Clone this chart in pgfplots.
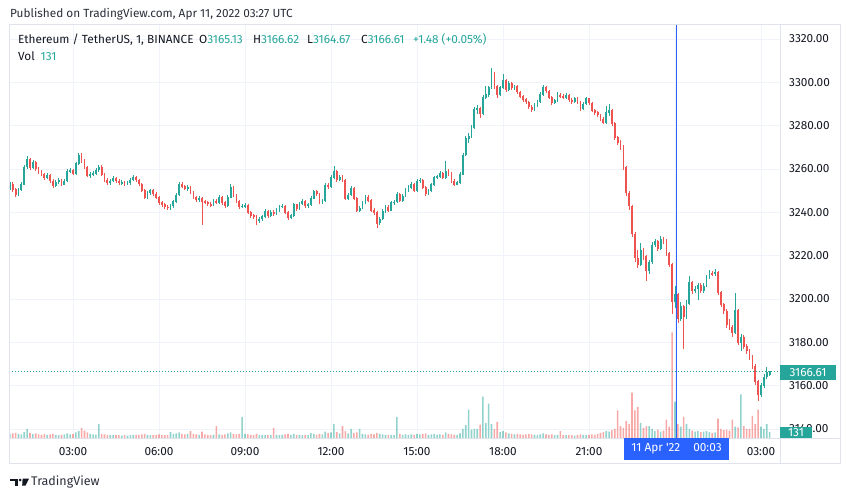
\documentclass[border=0pt]{standalone}
\usepackage{pgfplots}
\pgfplotsset{compat=1.18}
\usepackage{pgfplotstable}
\usepackage{fontspec}
\setmainfont{Fira Sans}
\definecolor{tvgreen}{HTML}{26A69A}
\definecolor{tvred}{HTML}{EF5350}
\definecolor{tvtext}{HTML}{131722}
\definecolor{tvgray}{HTML}{2A2E39}
\definecolor{tvgrid}{HTML}{F0F3FA}
\definecolor{tvborder}{HTML}{E0E3EB}
\definecolor{tvblue}{HTML}{2962FF}

\pgfplotstableread{
t o h l c v
0.8 3251.0 3254.2 3250.2 3253.0 88
0.9 3253.0 3253.8 3249.6 3250.5 100
1.0 3250.5 3251.2 3247.0 3248.0 110
1.1 3248.0 3251.3 3247.4 3250.5 90
1.2 3250.5 3254.0 3249.8 3253.0 80
1.3 3253.0 3262.0 3252.4 3261.0 130
1.4 3261.0 3265.8 3260.2 3264.5 200
1.5 3264.5 3265.2 3259.4 3260.5 110
1.6 3260.5 3264.0 3259.8 3263.0 90
1.7 3263.0 3263.6 3259.2 3260.0 100
1.8 3260.0 3261.0 3257.6 3258.5 80
1.9 3258.5 3259.4 3256.8 3257.5 70
2.0 3257.5 3258.2 3255.0 3256.0 90
2.1 3256.0 3258.0 3255.2 3257.0 70
2.2 3257.0 3257.6 3253.6 3254.5 80
2.3 3254.5 3255.2 3251.4 3252.5 90
2.4 3252.5 3254.8 3251.8 3254.0 70
2.5 3254.0 3256.0 3253.2 3255.0 60
2.6 3255.0 3255.6 3252.0 3253.0 70
2.7 3253.0 3255.4 3252.4 3254.5 80
2.8 3254.5 3260.0 3254.0 3259.0 100
2.9 3259.0 3260.4 3258.0 3259.4 80
3.0 3259.4 3260.0 3257.0 3258.0 90
3.1 3258.0 3263.4 3257.4 3262.5 120
3.2 3262.5 3267.6 3262.0 3266.5 150
3.3 3266.5 3267.2 3263.0 3264.0 220
3.4 3264.0 3264.8 3260.0 3261.0 160
3.5 3261.0 3261.6 3256.2 3257.0 120
3.6 3257.0 3258.6 3256.0 3257.5 90
3.7 3257.5 3259.0 3256.8 3258.0 80
3.8 3258.0 3260.4 3257.4 3259.5 70
3.9 3259.5 3262.0 3258.8 3261.0 310
4.0 3261.0 3261.8 3256.6 3257.5 90
4.1 3257.5 3258.0 3254.2 3255.0 80
4.2 3255.0 3255.8 3252.6 3253.5 70
4.3 3253.5 3255.4 3252.8 3254.5 60
4.4 3254.5 3256.6 3253.8 3255.8 70
4.5 3255.8 3256.4 3253.6 3254.5 60
4.6 3254.5 3255.2 3252.8 3253.5 60
4.7 3253.5 3254.8 3252.6 3254.0 50
4.8 3254.0 3254.6 3252.2 3253.0 60
4.9 3253.0 3254.4 3252.4 3253.5 50
5.0 3253.5 3255.8 3252.8 3255.0 60
5.1 3255.0 3257.2 3254.4 3256.3 70
5.2 3256.3 3256.8 3254.2 3255.0 60
5.3 3255.0 3255.6 3252.0 3253.0 70
5.4 3253.0 3253.6 3249.2 3250.0 80
5.5 3250.0 3250.6 3246.0 3247.0 90
5.6 3247.0 3249.8 3246.2 3249.0 70
5.7 3249.0 3251.0 3248.2 3250.0 60
5.8 3250.0 3250.6 3247.6 3248.5 60
5.9 3248.5 3249.2 3246.2 3247.0 70
6.0 3247.0 3247.6 3243.6 3244.5 80
6.1 3244.5 3245.2 3242.6 3243.5 70
6.2 3243.5 3244.2 3241.6 3242.5 60
6.3 3242.5 3243.2 3241.0 3242.0 70
6.4 3242.0 3244.0 3241.2 3243.0 130
6.5 3243.0 3245.8 3242.2 3245.0 90
6.6 3245.0 3248.8 3244.4 3248.0 100
6.7 3248.0 3254.0 3247.4 3253.0 120
6.8 3253.0 3253.8 3251.0 3252.0 90
6.9 3252.0 3252.8 3250.2 3251.0 80
7.0 3251.0 3252.4 3250.0 3251.5 90
7.1 3251.5 3252.0 3248.6 3249.5 150
7.2 3249.5 3250.0 3246.0 3247.0 90
7.3 3247.0 3247.6 3244.8 3245.7 80
7.4 3245.7 3247.4 3245.0 3246.5 70
7.5 3246.5 3247.2 3234.0 3245.0 140
7.6 3245.0 3245.8 3243.8 3244.6 80
7.7 3244.6 3245.4 3243.0 3243.8 60
7.8 3243.8 3244.6 3242.6 3243.4 60
7.9 3243.4 3246.0 3243.0 3245.3 70
8.0 3245.3 3246.2 3243.8 3244.6 260
8.1 3244.6 3247.8 3244.0 3247.0 80
8.2 3247.0 3247.6 3243.6 3244.5 70
8.3 3244.5 3245.2 3242.0 3243.0 80
8.4 3243.0 3247.8 3242.6 3247.0 100
8.5 3247.0 3253.2 3246.4 3251.5 120
8.6 3251.5 3252.0 3247.2 3248.0 90
8.7 3248.0 3248.6 3244.2 3245.0 80
8.8 3245.0 3245.6 3241.6 3242.5 90
8.9 3242.5 3244.0 3241.8 3243.0 460
9.0 3243.0 3244.2 3242.2 3243.3 90
9.1 3243.3 3243.8 3239.2 3240.0 80
9.2 3240.0 3240.8 3237.6 3238.5 70
9.3 3238.5 3239.2 3237.0 3238.0 60
9.4 3238.0 3238.6 3234.0 3236.0 90
9.5 3236.0 3237.8 3235.2 3237.0 70
9.6 3237.0 3238.8 3236.2 3238.0 60
9.7 3238.0 3241.4 3237.4 3240.5 70
9.8 3240.5 3241.0 3237.6 3238.5 60
9.9 3238.5 3241.0 3237.8 3240.2 60
10.0 3240.2 3241.0 3238.2 3239.5 220
10.1 3239.5 3241.8 3238.8 3241.0 70
10.2 3241.0 3243.4 3240.2 3242.5 60
10.3 3242.5 3244.0 3241.8 3243.0 70
10.4 3243.0 3243.6 3239.2 3240.0 80
10.5 3240.0 3240.6 3236.4 3237.5 90
10.6 3237.5 3239.4 3236.8 3238.5 70
10.7 3238.5 3244.4 3238.0 3243.5 90
10.8 3243.5 3244.0 3240.6 3241.5 70
10.9 3241.5 3245.0 3241.0 3244.0 60
11.0 3244.0 3246.0 3243.2 3245.0 60
11.1 3245.0 3245.6 3242.2 3243.0 70
11.2 3243.0 3244.4 3242.2 3243.5 60
11.3 3243.5 3247.4 3243.0 3246.5 110
11.4 3246.5 3250.4 3246.0 3249.5 90
11.5 3249.5 3250.2 3247.6 3248.5 70
11.6 3248.5 3249.0 3244.0 3244.8 90
11.7 3244.8 3246.2 3243.8 3245.2 80
11.8 3245.2 3253.4 3244.6 3252.5 140
11.9 3252.5 3253.6 3250.6 3252.0 110
12.0 3252.0 3257.0 3251.4 3256.0 120
12.1 3256.0 3261.5 3255.2 3259.0 310
12.2 3259.0 3259.6 3254.2 3255.0 130
12.3 3255.0 3257.2 3254.4 3256.3 100
12.4 3256.3 3257.2 3254.0 3255.0 260
12.5 3255.0 3255.6 3245.6 3246.5 150
12.6 3246.5 3249.0 3245.8 3248.0 100
12.7 3248.0 3252.0 3247.4 3251.0 200
12.8 3251.0 3251.6 3245.6 3246.5 110
12.9 3246.5 3247.0 3240.2 3241.0 120
13.0 3241.0 3243.0 3240.2 3242.0 200
13.1 3242.0 3245.4 3241.4 3244.5 90
13.2 3244.5 3247.8 3244.0 3247.0 80
13.3 3247.0 3247.8 3244.6 3245.5 70
13.4 3245.5 3246.0 3240.2 3241.0 90
13.5 3241.0 3241.8 3239.0 3240.0 80
13.6 3240.0 3240.6 3233.0 3235.0 110
13.7 3235.0 3237.8 3234.2 3237.0 90
13.8 3237.0 3241.4 3236.4 3240.5 80
13.9 3240.5 3243.4 3239.8 3242.5 70
14.0 3242.5 3243.2 3240.2 3241.0 60
14.1 3241.0 3245.4 3240.4 3244.5 70
14.2 3244.5 3245.8 3243.6 3244.8 60
14.3 3244.8 3249.4 3244.2 3248.5 460
14.4 3248.5 3249.0 3244.6 3245.5 90
14.5 3245.5 3248.4 3244.8 3247.5 70
14.6 3247.5 3251.0 3247.0 3250.0 80
14.7 3250.0 3252.4 3249.2 3251.5 70
14.8 3251.5 3254.0 3250.8 3253.0 80
14.9 3253.0 3253.6 3249.2 3250.0 70
15.0 3250.0 3255.4 3249.4 3254.5 90
15.1 3254.5 3256.0 3253.6 3255.0 80
15.2 3255.0 3255.6 3250.6 3251.5 90
15.3 3251.5 3252.0 3247.6 3248.5 100
15.4 3248.5 3250.8 3247.8 3250.0 70
15.5 3250.0 3253.6 3249.4 3252.8 80
15.6 3252.8 3256.8 3252.2 3256.0 90
15.7 3256.0 3257.4 3255.2 3256.5 70
15.8 3256.5 3259.0 3255.8 3258.0 80
15.9 3258.0 3258.6 3255.2 3256.0 70
16.0 3256.0 3263.5 3255.4 3259.0 120
16.1 3259.0 3259.8 3257.0 3258.0 90
16.2 3258.0 3258.6 3253.6 3254.5 80
16.3 3254.5 3255.2 3252.0 3253.0 70
16.4 3253.0 3254.6 3252.4 3253.8 70
16.5 3253.8 3258.4 3253.2 3257.5 100
16.6 3257.5 3267.6 3257.0 3266.5 200
16.7 3266.5 3275.2 3265.8 3274.0 280
16.8 3274.0 3276.4 3272.0 3275.0 620
16.9 3275.0 3280.2 3274.2 3279.0 180
17.0 3279.0 3288.6 3278.4 3287.5 200
17.1 3287.5 3289.4 3285.6 3288.0 200
17.2 3288.0 3288.8 3283.6 3285.5 290
17.3 3285.5 3294.2 3285.0 3293.0 900
17.4 3293.0 3298.4 3292.2 3294.5 330
17.5 3294.5 3298.4 3293.4 3297.5 750
17.6 3297.5 3306.5 3296.8 3304.0 300
17.7 3304.0 3304.6 3296.8 3298.0 200
17.8 3298.0 3298.6 3292.8 3294.5 350
17.9 3294.5 3298.4 3293.8 3297.5 130
18.0 3297.5 3304.0 3297.0 3301.0 150
18.1 3301.0 3301.6 3295.6 3296.5 120
18.2 3296.5 3300.4 3296.0 3299.5 100
18.3 3299.5 3300.0 3296.6 3297.4 90
18.4 3297.4 3299.0 3296.6 3298.0 80
18.5 3298.0 3298.6 3294.6 3295.5 90
18.6 3295.5 3296.2 3292.6 3293.5 80
18.7 3293.5 3294.2 3291.0 3292.0 70
18.8 3292.0 3292.8 3290.2 3291.0 80
18.9 3291.0 3291.6 3287.6 3288.6 90
19.0 3288.6 3289.4 3286.2 3287.2 80
19.1 3287.2 3290.4 3286.6 3289.5 70
19.2 3289.5 3292.0 3288.8 3291.0 60
19.3 3291.0 3295.4 3290.4 3294.5 80
19.4 3294.5 3298.6 3293.8 3297.5 100
19.5 3297.5 3298.2 3295.0 3296.0 80
19.6 3296.0 3296.6 3292.2 3293.0 70
19.7 3293.0 3293.6 3289.6 3290.5 80
19.8 3290.5 3292.4 3289.8 3291.5 60
19.9 3291.5 3295.4 3290.8 3294.0 70
20.0 3294.0 3295.2 3292.8 3293.6 150
20.1 3293.6 3294.6 3292.2 3293.0 60
20.2 3293.0 3295.0 3292.4 3294.0 60
20.3 3294.0 3294.6 3291.0 3291.8 70
20.4 3291.8 3292.6 3290.2 3291.2 60
20.5 3291.2 3293.4 3290.6 3292.5 50
20.6 3292.5 3293.2 3290.0 3291.0 60
20.7 3291.0 3291.6 3287.0 3288.0 80
20.8 3288.0 3290.8 3287.4 3290.0 70
20.9 3290.0 3293.4 3289.4 3292.5 60
21.0 3292.5 3293.0 3289.6 3290.5 70
21.1 3290.5 3291.0 3286.2 3287.0 80
21.2 3287.0 3287.8 3285.0 3286.0 70
21.3 3286.0 3286.8 3284.2 3285.0 90
21.4 3285.0 3285.6 3282.0 3283.0 110
21.5 3283.0 3283.8 3280.6 3281.5 130
21.6 3281.5 3289.0 3281.0 3286.0 150
21.7 3286.0 3290.0 3284.4 3287.0 140
21.8 3287.0 3287.6 3280.0 3281.0 170
21.9 3281.0 3281.6 3273.4 3274.5 200
22.0 3274.5 3275.4 3271.0 3272.0 600
22.1 3272.0 3273.2 3268.8 3270.5 260
22.2 3270.5 3271.2 3259.6 3261.0 220
22.3 3261.0 3261.6 3247.4 3249.0 370
22.4 3249.0 3249.8 3241.2 3243.0 300
22.5 3243.0 3243.6 3228.4 3230.0 990
22.6 3230.0 3230.8 3217.0 3219.0 600
22.7 3219.0 3222.6 3214.2 3216.0 680
22.8 3216.0 3225.8 3215.4 3222.5 330
22.9 3222.5 3223.4 3218.0 3219.5 220
23.0 3219.5 3220.4 3208.5 3213.0 260
23.1 3213.0 3218.2 3211.4 3217.0 260
23.2 3217.0 3226.2 3216.0 3225.0 200
23.3 3225.0 3227.8 3223.8 3226.5 150
23.4 3226.5 3227.2 3222.0 3223.0 180
23.5 3223.0 3229.0 3222.4 3227.5 140
23.6 3227.5 3228.8 3225.6 3227.0 160
23.7 3227.0 3227.6 3219.8 3221.0 400
23.8 3221.0 3221.6 3214.6 3216.0 250
23.9 3216.0 3216.6 3193.0 3199.0 2300
24.0 3199.0 3206.0 3196.0 3202.0 790
24.1 3202.0 3203.0 3189.0 3191.0 300
24.2 3191.0 3198.6 3190.0 3196.5 250
24.3 3196.5 3197.4 3177.0 3192.0 460
24.4 3192.0 3199.4 3190.6 3198.0 310
24.5 3198.0 3210.5 3197.4 3207.5 200
24.6 3207.5 3208.2 3202.4 3204.0 160
24.7 3204.0 3206.0 3202.6 3204.6 140
24.8 3204.6 3207.6 3199.5 3206.5 150
24.9 3206.5 3207.4 3203.0 3204.0 130
25.0 3204.0 3207.2 3202.8 3206.0 140
25.1 3206.0 3211.2 3205.4 3210.0 150
25.2 3210.0 3213.2 3209.2 3212.0 130
25.3 3212.0 3213.0 3210.4 3211.5 110
25.4 3211.5 3214.0 3210.6 3212.5 120
25.5 3212.5 3213.0 3201.8 3203.0 420
25.6 3203.0 3203.6 3196.4 3197.5 200
25.7 3197.5 3198.2 3193.2 3194.5 170
25.8 3194.5 3195.2 3186.8 3188.0 180
25.9 3188.0 3190.6 3185.6 3187.0 160
26.0 3187.0 3187.8 3182.5 3184.5 400
26.1 3184.5 3203.0 3184.0 3195.0 250
26.2 3195.0 3195.6 3179.0 3180.0 230
26.3 3180.0 3184.0 3176.0 3182.5 950
26.4 3182.5 3183.2 3176.8 3178.0 260
26.5 3178.0 3179.4 3174.6 3176.0 200
26.6 3176.0 3176.8 3172.0 3173.5 200
26.7 3173.5 3174.2 3167.6 3169.0 480
26.8 3169.0 3169.8 3160.4 3162.0 300
26.9 3162.0 3162.8 3153.0 3156.0 620
27.0 3156.0 3161.4 3154.6 3160.0 250
27.1 3160.0 3165.6 3158.8 3164.0 200
27.2 3164.0 3168.6 3163.0 3166.0 300
27.3 3165.13 3166.62 3164.67 3166.61 131
}\candles

\begin{document}
\begin{tikzpicture}[x=1pt,y=1pt]
\path[use as bounding box] (0,0) rectangle (850,498);
\pgfplotsset{tvbase/.style={at={(9pt,60pt)}, anchor=south west, scale only axis,
  width=771pt, height=413pt, xmin=0.7675, xmax=27.663}}
% --- grid and scale labels
\begin{axis}[tvbase, ymin=3135.85, ymax=3326.46,
  axis line style={draw=none}, major tick length=0pt,
  axis x line*=bottom, axis y line*=right,
  grid=major, grid style={tvgrid, line width=0.8pt},
  xtick={3,6,9,12,15,18,21,24,27},
  xticklabels={03:00,06:00,09:00,12:00,15:00,18:00,21:00,{},03:00},
  xticklabel style={font=\fontsize{11.8}{13}\selectfont, text=tvtext, anchor=base, yshift=-17.5pt},
  ytick={3140,3160,3180,3200,3220,3240,3260,3280,3300,3320},
  yticklabel pos=right,
  /pgf/number format/assume math mode=true,
  yticklabel={\pgfmathprintnumber[fixed,fixed zerofill,precision=2,1000 sep={}]{\tick}},
  yticklabel style={font=\fontsize{11.8}{13}\selectfont, text=tvtext, anchor=west, inner sep=0pt, xshift=9pt},
]
\end{axis}
% --- volume
\begin{axis}[tvbase, ymin=0, ymax=9000, hide axis]
\addplot[ybar, bar width=1.6pt, bar shift=0pt, fill=tvgreen, fill opacity=0.5, draw=none]
  table[x=t, y expr={\thisrow{c}>=\thisrow{o} ? \thisrow{v} : nan}]{\candles};
\addplot[ybar, bar width=1.6pt, bar shift=0pt, fill=tvred, fill opacity=0.5, draw=none]
  table[x=t, y expr={\thisrow{c}<\thisrow{o} ? \thisrow{v} : nan}]{\candles};
\end{axis}
% --- candles
\begin{axis}[tvbase, ymin=3135.85, ymax=3326.46, hide axis]
\addplot[tvgreen, dash pattern=on 1pt off 2pt, line width=0.8pt] coordinates {(0.7675,3166.61) (27.663,3166.61)};
\addplot[draw=none, mark=none, error bars/.cd, y dir=both, y explicit, error mark=none,
  error bar style={draw=tvgreen, line width=0.7pt}]
  table[x=t, y expr={\thisrow{c}>=\thisrow{o} ? (\thisrow{h}+\thisrow{l})/2 : nan},
        y error expr={(\thisrow{h}-\thisrow{l})/2}]{\candles};
\addplot[draw=none, mark=none, error bars/.cd, y dir=both, y explicit, error mark=none,
  error bar style={draw=tvred, line width=0.7pt}]
  table[x=t, y expr={\thisrow{c}<\thisrow{o} ? (\thisrow{h}+\thisrow{l})/2 : nan},
        y error expr={(\thisrow{h}-\thisrow{l})/2}]{\candles};
\addplot[draw=none, mark=none, error bars/.cd, y dir=both, y explicit, error mark=none,
  error bar style={draw=tvgreen, line width=1.8pt}]
  table[x=t, y expr={\thisrow{c}>=\thisrow{o} ? (\thisrow{o}+\thisrow{c})/2 : nan},
        y error expr={abs(\thisrow{c}-\thisrow{o})/2+0.15}]{\candles};
\addplot[draw=none, mark=none, error bars/.cd, y dir=both, y explicit, error mark=none,
  error bar style={draw=tvred, line width=1.8pt}]
  table[x=t, y expr={\thisrow{c}<\thisrow{o} ? (\thisrow{o}+\thisrow{c})/2 : nan},
        y error expr={abs(\thisrow{c}-\thisrow{o})/2+0.15}]{\candles};
\addplot[tvblue, line width=1pt] coordinates {(24.05,3135.85) (24.05,3326.46)};
\end{axis}
% --- frame
\draw[tvborder, line width=0.8pt] (9,35) rectangle (840,473.5);
\draw[tvborder, line width=0.8pt] (780,35) -- (780,473.5);
\draw[tvborder, line width=0.8pt] (9,60) -- (840,60);
% --- price and volume labels
\fill[tvgreen] (780,118) rectangle (836,133);
\node[text=white, font=\fontsize{11.8}{13}\selectfont, inner sep=0pt] at (808,125.5) {3166.61};
\fill[tvgreen] (780,60.4) rectangle (812,71);
\node[text=white, font=\fontsize{11.8}{13}\selectfont, inner sep=0pt] at (796,65) {131};
% --- date label
\fill[tvblue] (624,38) rectangle (729,60);
\node[text=white, font=\fontsize{11.8}{13}\selectfont, inner sep=0pt] at (676.5,49) {11 Apr \textquotesingle22\hspace{1.1em}00:03};
% --- header
\node[anchor=base west, inner sep=0pt, text=tvgray, font=\fontsize{11.8}{13}\selectfont] at (10,480) {Published on TradingView.com, Apr 11, 2022 03:27 UTC};
\begin{scope}[every node/.style={anchor=base west, inner sep=0pt, text=tvtext, font=\fontsize{11.8}{13}\selectfont}]
\node at (18,454) {Ethereum / TetherUS, 1, BINANCE};
\node at (199,454) {O\textcolor{tvgreen}{3165.13}};
\node at (253,454) {H\textcolor{tvgreen}{3166.62}};
\node at (307,454) {L\textcolor{tvgreen}{3164.67}};
\node at (361,454) {C\textcolor{tvgreen}{3166.61}};
\node at (413,454) {\textcolor{tvgreen}{+1.48 (+0.05\%)}};
\node at (18,437) {Vol};
\node at (40.5,437) {\textcolor{tvgreen}{131}};
\end{scope}
% --- footer logo
\fill[tvtext] (10,19.5) rectangle (17.6,16.6);
\fill[tvtext] (14.7,19.5) rectangle (17.6,12.5);
\fill[tvtext] (20.2,18) circle (1.5);
\fill[tvtext] (22.6,19.5) -- (29,19.5) -- (25.6,12.5) -- (22.2,12.5) -- cycle;
\node[anchor=base west, inner sep=0pt, text=tvgray, font=\fontsize{12.5}{14}\selectfont] at (31,12.8) {TradingView};
\end{tikzpicture}
\end{document}
